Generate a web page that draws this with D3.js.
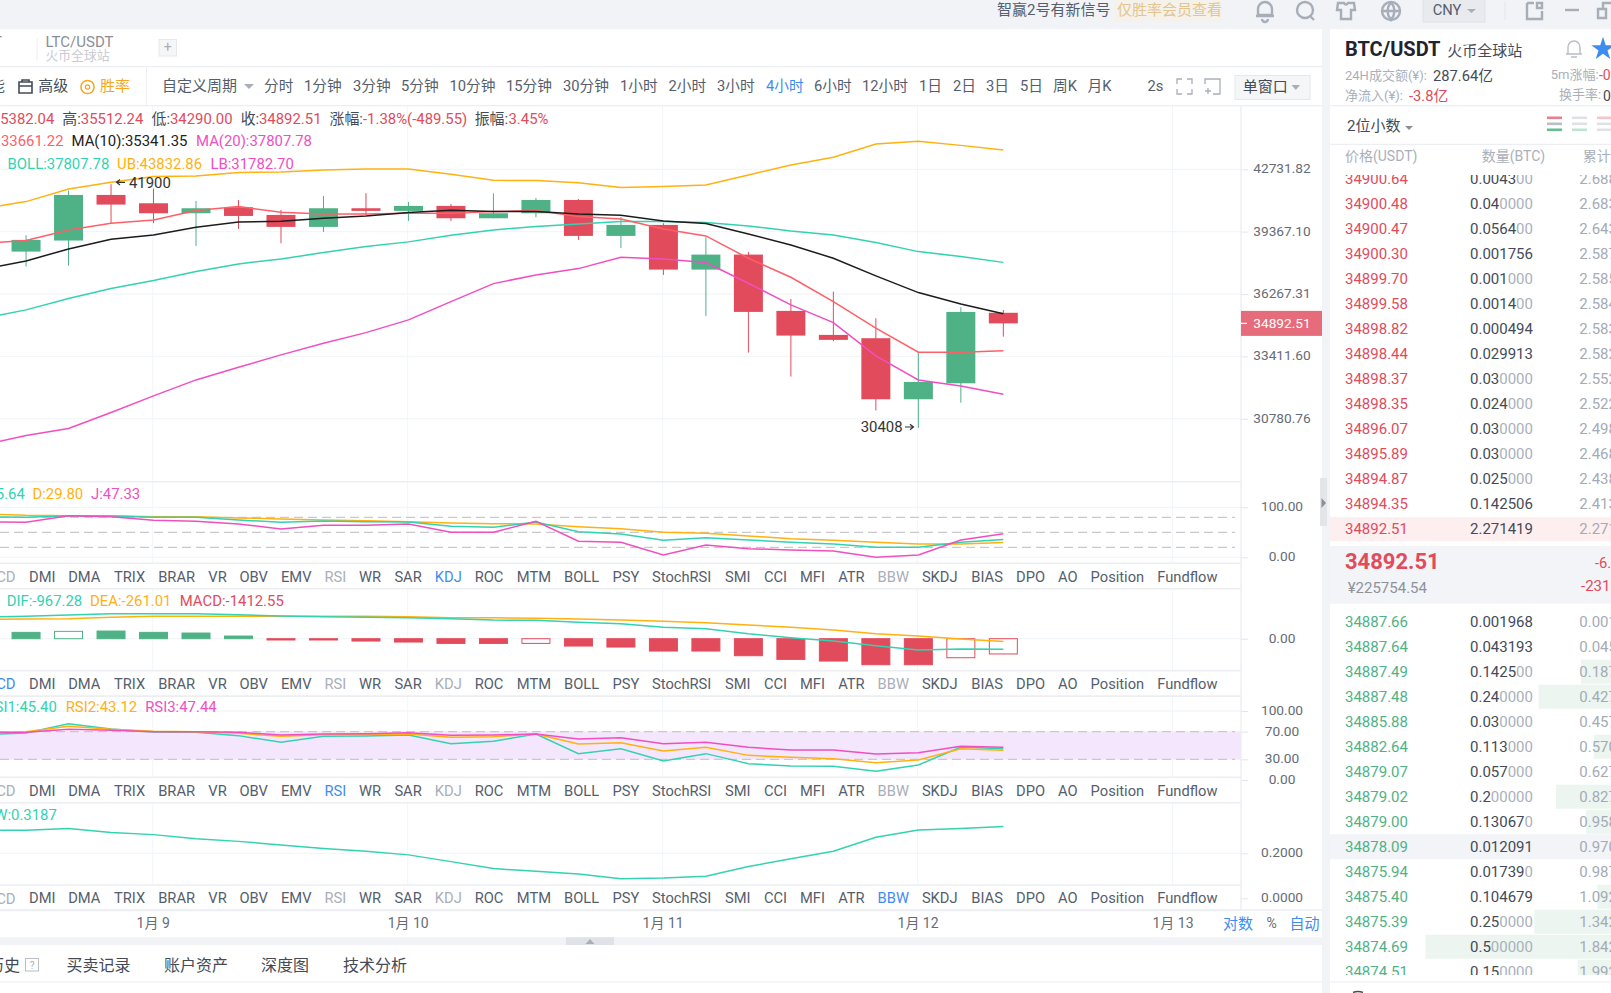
<!DOCTYPE html>
<html>
<head>
<meta charset="utf-8">
<script src="https://cdnjs.cloudflare.com/ajax/libs/d3/7.8.5/d3.min.js"></script>
<style>
    html, body { margin: 0; padding: 0; background: #fff; overflow: hidden; }
    svg { display: block; font-family: Roboto, 'Noto Sans CJK SC', sans-serif; }
</style>
</head>
<body>
<svg id="chart" width="1611" height="993"></svg>
<script>
'use strict'

// candles, 4h each, newest last
const opens = [38348, 38909, 41315, 40865, 40331, 40651, 40242, 39614, 40598, 40456, 40723, 40066, 40331, 41043, 39147, 39718, 37450, 38197, 35470, 34367, 34218, 31578, 32249, 35382.04]
const highs = [39181, 41552, 41900, 41661, 40990, 41043, 40509, 41260, 41406, 40936, 40830, 41406, 41150, 41096, 40136, 39805, 39079, 38331, 36033, 36383, 35128, 33578, 35642, 35512.24]
const lows = [37597, 37647, 39805, 39805, 38637, 39509, 38771, 39353, 40242, 39927, 39927, 40066, 40118, 38943, 38533, 37190, 35236, 33578, 32535, 34084, 31113, 30408, 31440, 34290]
const closes = [38943, 41315, 40794, 40331, 40598, 40189, 39614, 40598, 40456, 40723, 40066, 40331, 41043, 39147, 39718, 37450, 38197, 35423, 34337, 34143, 31578, 32306, 35423, 34892.51]

// indicator lines start one candle earlier, left of the visible area
const ma5 = [38771, 38909, 39457, 39805, 39979, 40473, 40687, 40379, 40295, 40295, 40331, 40331, 40420, 40473, 40153, 40031, 39509, 39147, 38014, 37076, 35907, 34671, 33593, 33593, 33661.22]
const ma10 = [37467, 37880, 38481, 38977, 39198, 39596, 39874, 39909, 40066, 40189, 40367, 40492, 40420, 40420, 40295, 40224, 39927, 39788, 39249, 38686, 38014, 37141, 36335, 35798, 35341.35]
const boll = [35128, 35517, 36049, 36527, 36913, 37352, 37731, 37980, 38297, 38601, 38841, 39181, 39457, 39631, 39770, 39892, 39892, 39840, 39666, 39405, 39198, 38805, 38347, 38097, 37807.78]
const bollUpper = [40598, 40954, 41643, 42008, 42324, 42361, 42547, 42584, 42696, 42752, 42752, 42454, 42119, 42101, 41989, 41715, 41770, 41861, 42417, 42977, 43414, 44183, 44338, 44098, 43832.86]
const bollLower = [29740, 30105, 30385, 31030, 31718, 32392, 32935, 33476, 33993, 34471, 35052, 35907, 36767, 37190, 37499, 38064, 37980, 37797, 36783, 35751, 34930, 33432, 32392, 32137, 31782.70]

const kdjK = [81, 80, 83.3, 82.7, 80, 80, 74.7, 70, 72.7, 71.3, 70.7, 62, 60, 70.7, 51.3, 46.7, 34, 39.3, 34.7, 30, 26.7, 20, 20, 30, 35.64]
const kdjD = [86.7, 84, 83.3, 83.3, 81.3, 81.3, 78.7, 76.7, 74.7, 73.3, 71.3, 68.7, 67.3, 66.7, 61.3, 57.3, 50, 48, 42.7, 37.3, 34, 30, 26.7, 26.7, 29.8]
const kdjJ = [70.7, 70, 83.3, 81.3, 74, 72, 66.7, 56.7, 64, 64, 66.7, 50, 50, 72, 32, 30, 4.7, 24.7, 17.3, 14.7, 12.7, 0, 4.7, 34.7, 47.33]

const macdDif = [2010, 2070, 2194, 2318, 2318, 2318, 2225, 2101, 2039, 1978, 1947, 1854, 1730, 1700, 1514, 1391, 1051, 927, 464, 93, -216, -649, -1051, -958, -967.28]
const macdDea = [1792, 1823, 1854, 1978, 2070, 2070, 2070, 2070, 2070, 2070, 2039, 1947, 1947, 1885, 1823, 1730, 1607, 1483, 1267, 1051, 803, 464, 247, -31, -261.01]
const macdHist = [587, 680, 710, 587, 525, 247, -120, -120, -216, -309, -433, -433, -433, -680, -773, -1143, -1143, -1576, -1916, -2070, -2410, -2410, -1761, -1412.55]
const macdHollow = [1, 12, 22, 23]

const rsi1 = [65.7, 68.1, 81.6, 73.9, 69.6, 69.1, 64.3, 54.6, 63.3, 63.8, 65.2, 52.7, 56, 66.7, 38.2, 45.4, 27.5, 38.2, 23.7, 20.3, 19.8, 12.6, 21.7, 47.8, 45.4]
const rsi2 = [68.6, 70, 77.8, 73.4, 70.5, 70, 67.6, 63.3, 65.7, 66.2, 66.7, 61.8, 62.8, 66.7, 52.2, 54.1, 42, 47.3, 35.7, 32.9, 30.9, 25.1, 29, 45.4, 43.12]
const rsi3 = [68.6, 69.1, 73.4, 72, 70, 70, 69.1, 65.2, 66.7, 67.1, 68.6, 64.7, 65.2, 66.7, 59.4, 61.4, 52.7, 54.6, 47.3, 43.5, 43.5, 37.7, 39.6, 48.8, 47.44]

const bbw = [0.302, 0.302, 0.31, 0.292, 0.283, 0.265, 0.253, 0.237, 0.221, 0.209, 0.193, 0.163, 0.132, 0.12, 0.108, 0.087, 0.09, 0.098, 0.141, 0.176, 0.209, 0.271, 0.304, 0.31, 0.3187]

// axis ticks
const priceTicks = [42731.82, 39367.10, 36267.31, 33411.60, 30780.76]
const kdjTicks = [100, 0]
const kdjGuides = [80, 50, 20]
const macdTicks = [0]
const rsiTicks = [100, 70, 30, 0]
const rsiBand = [70, 30]
const bbwTicks = [0.2, 0]
const dateTicks = ['2021-01-09', '2021-01-10', '2021-01-11', '2021-01-12', '2021-01-13']

// order book, top to bottom
const askPrices = ['34900.64', '34900.48', '34900.47', '34900.30', '34899.70', '34899.58', '34898.82', '34898.44', '34898.37', '34898.35', '34896.07', '34895.89', '34894.87', '34894.35', '34892.51']
const askQtys = [0.0043, 0.04, 0.0564, 0.001756, 0.001, 0.0014, 0.000494, 0.029913, 0.03, 0.024, 0.03, 0.03, 0.025, 0.142506, 2.271419]
const bidPrices = ['34887.66', '34887.64', '34887.49', '34887.48', '34885.88', '34882.64', '34879.07', '34879.02', '34879.00', '34878.09', '34875.94', '34875.40', '34875.39', '34874.69', '34874.51']
const bidQtys = [0.001968, 0.043193, 0.1425, 0.24, 0.03, 0.113, 0.057, 0.2, 0.13067, 0.012091, 0.01739, 0.104679, 0.25, 0.5, 0.15]

// labels
const periods = [['分时', 264], ['1分钟', 304], ['3分钟', 353], ['5分钟', 401], ['10分钟', 449.5], ['15分钟', 506], ['30分钟', 563], ['1小时', 620], ['2小时', 668.6], ['3小时', 717], ['4小时', 766], ['6小时', 814], ['12小时', 862], ['1日', 919], ['2日', 953], ['3日', 986], ['5日', 1020], ['周K', 1053], ['月K', 1087.5], ['2s', 1147.5]]
const indicators = [['DMI', 29], ['DMA', 68.2], ['TRIX', 114], ['BRAR', 158.2], ['VR', 208.3], ['OBV', 239.5], ['EMV', 281], ['RSI', 324.5], ['WR', 359], ['SAR', 394.4], ['KDJ', 434.8], ['ROC', 474.7], ['MTM', 516.8], ['BOLL', 564], ['PSY', 612.4], ['StochRSI', 652], ['SMI', 725], ['CCI', 764], ['MFI', 800], ['ATR', 838.2], ['BBW', 877.6], ['SKDJ', 921.9], ['BIAS', 971.3], ['DPO', 1016], ['AO', 1058], ['Position', 1090.6], ['Fundflow', 1157.3]]

const RED = '#e24b5b'
const GREEN = '#4fb286'
const TEAL = '#33d2b0'
const ORANGE = '#ffb10f'
const PINK = '#f04fc0'
const CORAL = '#ff5f68'
const BLUE = '#3f8cf0'
const GRID = '#f3f6f9'
const RULE = '#eceef2'
const PAGE_BG = '#f1f3f7'
const AXIS_X = 1241
const CANDLE_W = 29
// candles sit a little right of the date grid lines
const CANDLE_SHIFT = 0.8

const svg = d3.select('#chart')

const text = (parent, x, y, str, opts = {}) => {
    return parent
        .append('text')
        .attr('x', x)
        .attr('y', y)
        .attr('dy', '.35em')
        .attr('font-size', opts.size || 14.9)
        .attr('font-weight', opts.weight || null)
        .attr('fill', opts.color || '#555e6c')
        .attr('text-anchor', opts.anchor || 'start')
        .text(str)
}

const rect = (parent, x, y, w, h, fill, stroke) => {
    return parent
        .append('rect')
        .attr('x', x)
        .attr('y', y)
        .attr('width', w)
        .attr('height', h)
        .attr('fill', fill)
        .attr('stroke', stroke || 'none')
}

const hline = (parent, x1, x2, y, color, width = 1) => {
    parent.append('line').attr('x1', x1).attr('x2', x2).attr('y1', y).attr('y2', y).attr('stroke', color).attr('stroke-width', width)
}

// shared time axis
const startTime = new Date('2021-01-08T12:00:00Z')
const candleTimes = opens.map((d, i) => d3.utcHour.offset(startTime, 4 * i))
const lineTimes = [d3.utcHour.offset(startTime, -4), ...candleTimes]
const x = d3
    .scaleUtc()
    .domain([startTime, new Date('2021-01-13T00:00:00Z')])
    .range([25.25, 1172.5])
const cx = (t) => x(t) + CANDLE_SHIFT

// y scales per pane
const yPrice = d3.scaleLog().domain([30780.76, 42731.82]).range([418.7, 169.3])
const yKdj = d3.scaleLinear().domain([0, 100]).range([557.3, 507.3])
const yMacd = d3.scaleLinear().domain([-1000, 1000]).range([649.5, 627.9])
const yRsi = d3.scaleLinear().domain([0, 100]).range([780, 711])
const yBbw = d3.scaleLinear().domain([0, 0.2]).range([898.3, 853.3])

// page frame
rect(svg, 0, 0, 1611, 993, '#fff')
rect(svg, 0, 0, 1611, 29, PAGE_BG)
rect(svg, 1322, 29, 8, 964, PAGE_BG)
rect(svg, 0, 937.3, 1322, 7.7, PAGE_BG)
rect(svg, 566, 937.3, 48, 7.7, '#dfe2e6')
svg.append('path').attr('d', 'M585.5 944 L590 939 L594.5 944 Z').attr('fill', '#a9afb8')

// grid
const grid = svg.append('g')
dateTicks.forEach((d) => {
    const gx = x(new Date(d))
    grid.append('line').attr('x1', gx).attr('x2', gx).attr('y1', 106).attr('y2', 910).attr('stroke', GRID)
})
priceTicks.forEach((d) => hline(grid, 0, AXIS_X, yPrice(d), GRID, 1.3))
kdjTicks.forEach((d) => hline(grid, 0, AXIS_X, yKdj(d), GRID, 1.3))
macdTicks.forEach((d) => hline(grid, 0, AXIS_X, yMacd(d), GRID, 1.3))
rsiTicks.forEach((d) => hline(grid, 0, AXIS_X, yRsi(d), GRID, 1.3))
bbwTicks.forEach((d) => hline(grid, 0, AXIS_X, yBbw(d), GRID, 1.3))

// rsi band and guide lines
rect(svg, 0, yRsi(rsiBand[0]), AXIS_X, yRsi(rsiBand[1]) - yRsi(rsiBand[0]), '#f4e6fc')
const dashed = (v, y) => {
    svg.append('line')
        .attr('x1', 0)
        .attr('x2', AXIS_X - 6)
        .attr('y1', y(v))
        .attr('y2', y(v))
        .attr('stroke', '#c9c9cd')
        .attr('stroke-width', 1.2)
        .attr('stroke-dasharray', '9 5')
}
kdjGuides.forEach((d) => dashed(d, yKdj))
rsiBand.forEach((d) => dashed(d, yRsi))

// candles
const candles = svg
    .append('g')
    .selectAll('g')
    .data(candleTimes)
    .join('g')
    .attr('fill', (d, i) => (closes[i] >= opens[i] ? GREEN : RED))
    .attr('stroke', (d, i) => (closes[i] >= opens[i] ? GREEN : RED))
candles
    .append('line')
    .attr('x1', (d) => cx(d))
    .attr('x2', (d) => cx(d))
    .attr('y1', (d, i) => yPrice(highs[i]))
    .attr('y2', (d, i) => yPrice(lows[i]))
candles
    .append('rect')
    .attr('x', (d) => cx(d) - CANDLE_W / 2)
    .attr('width', CANDLE_W)
    .attr('y', (d, i) => yPrice(Math.max(opens[i], closes[i])))
    .attr('height', (d, i) => Math.abs(yPrice(opens[i]) - yPrice(closes[i])))
    .attr('stroke', 'none')

const drawLine = (values, y, color, width = 1.5) => {
    const line = d3
        .line()
        .x((d, i) => cx(lineTimes[i]))
        .y((d) => y(d))
    svg.append('path').datum(values).attr('d', line).attr('fill', 'none').attr('stroke', color).attr('stroke-width', width)
}

drawLine(bollUpper, yPrice, ORANGE)
drawLine(boll, yPrice, TEAL)
drawLine(bollLower, yPrice, PINK)
drawLine(ma5, yPrice, CORAL)
drawLine(ma10, yPrice, '#1c1c1c')

// high and low markers
text(svg, 129, 182.3, '41900', { color: '#333' })
svg.append('path').attr('d', 'M125 182.3 H117 M120 179.5 L116.5 182.3 L120 185').attr('fill', 'none').attr('stroke', '#333').attr('stroke-width', 1.2)
text(svg, 860.7, 426.7, '30408', { color: '#333' })
svg.append('path').attr('d', 'M905 427 H913 M910 424.2 L913.5 427 L910 429.8').attr('fill', 'none').attr('stroke', '#333').attr('stroke-width', 1.2)

// kdj
drawLine(kdjD, yKdj, ORANGE)
drawLine(kdjK, yKdj, TEAL)
drawLine(kdjJ, yKdj, PINK)

// macd histogram
svg.append('g')
    .selectAll('rect')
    .data(macdHist)
    .join('rect')
    .attr('x', (d, i) => cx(candleTimes[i]) - CANDLE_W / 2 + 0.5)
    .attr('width', CANDLE_W - 1)
    .attr('y', (d) => Math.min(yMacd(d), yMacd(0)))
    .attr('height', (d) => Math.abs(yMacd(d) - yMacd(0)))
    .attr('fill', (d, i) => (macdHollow.includes(i) ? '#fff' : d >= 0 ? GREEN : RED))
    .attr('stroke', (d) => (d >= 0 ? GREEN : RED))
    .attr('stroke-width', 1)
drawLine(macdDea, yMacd, ORANGE)
drawLine(macdDif, yMacd, TEAL)

// rsi, bbw
drawLine(rsi1, yRsi, TEAL)
drawLine(rsi2, yRsi, ORANGE)
drawLine(rsi3, yRsi, PINK)
drawLine(bbw, yBbw, TEAL)

// indicator tab rows
const tabRows = [
    { y: 563.3, active: 'KDJ', muted: ['MACD', 'RSI', 'BBW'] },
    { y: 670.7, active: 'MACD', muted: ['KDJ', 'RSI', 'BBW'] },
    { y: 777.3, active: 'RSI', muted: ['MACD', 'KDJ', 'BBW'] },
    { y: 885, active: 'BBW', muted: ['MACD', 'KDJ', 'RSI'] },
]
tabRows.forEach((row) => {
    const g = svg.append('g')
    rect(g, 0, row.y, AXIS_X, 25.4, '#fff')
    hline(g, 0, AXIS_X, row.y, RULE, 1.6)
    hline(g, 0, AXIS_X, row.y + 25.4, RULE, 1.6)
    const colorOf = (name) => (name === row.active ? BLUE : row.muted.includes(name) ? '#a9aeb8' : '#555e6c')
    text(g, 15.6, row.y + 13.3, 'MACD', { anchor: 'end', color: colorOf('MACD') })
    indicators.forEach(([name, tx]) => text(g, tx, row.y + 13.3, name, { color: colorOf(name), size: 14.7 }))
})
hline(svg, 0, AXIS_X, 481.7, RULE, 1.6)

// right axes
const drawAxis = (y, values, format) => {
    const g = svg
        .append('g')
        .attr('transform', `translate(${AXIS_X},0)`)
        .call(d3.axisRight(y).tickValues(values).tickFormat(format).tickSize(7))
    g.select('.domain').remove()
    g.selectAll('.tick line').attr('stroke', '#e3e6ea')
    g.selectAll('.tick text')
        .attr('x', 41)
        .attr('dy', '.25em')
        .attr('text-anchor', 'middle')
        .attr('font-size', 13.7)
        .attr('font-family', 'Roboto')
        .attr('fill', '#666c76')
}
drawAxis(yPrice, priceTicks, d3.format('.2f'))
drawAxis(yKdj, kdjTicks, d3.format('.2f'))
drawAxis(yMacd, macdTicks, d3.format('.2f'))
drawAxis(yRsi, rsiTicks, d3.format('.2f'))
drawAxis(yBbw, bbwTicks, d3.format('.4f'))
svg.append('line').attr('x1', AXIS_X).attr('x2', AXIS_X).attr('y1', 106).attr('y2', 910).attr('stroke', RULE).attr('stroke-width', 1.4)

// last price tag
const lastClose = closes[closes.length - 1]
rect(svg, AXIS_X, yPrice(lastClose) - 12.5, 81, 25, '#e66b7b')
hline(svg, AXIS_X, AXIS_X + 6, yPrice(lastClose), '#fff', 1.2)
text(svg, AXIS_X + 41, yPrice(lastClose), d3.format('.2f')(lastClose), { color: '#fff', anchor: 'middle', size: 13.7 })

// bottom time axis
const timeAxis = svg
    .append('g')
    .attr('transform', 'translate(0,923.3)')
    .call(
        d3
            .axisBottom(x)
            .tickValues(dateTicks.map((d) => new Date(d)))
            .tickFormat((d) => `1月 ${d.getUTCDate()}`)
            .tickSize(0)
    )
timeAxis.select('.domain').remove()
timeAxis
    .selectAll('.tick text')
    .attr('y', 0)
    .attr('dy', '.35em')
    .attr('font-size', 14)
    .attr('font-family', "Roboto, 'Noto Sans CJK SC'")
    .attr('fill', '#666c76')
hline(svg, 0, 1322, 910, RULE, 1.6)
text(svg, 1223, 923.3, '对数', { color: BLUE, size: 15 })
text(svg, 1266.6, 923.3, '%', { color: '#666c76', size: 14 })
text(svg, 1289.6, 923.3, '自动', { color: BLUE, size: 15 })

// legends
const legend = (y, items) => {
    items.forEach(([lx, str, color, anchor]) => text(svg, lx, y, str, { color, anchor }))
}
const DARK = '#444b57'
legend(118.7, [
    [54.3, '开:35382.04', RED, 'end'],
    [62.3, '高:', DARK],
    [80.8, '35512.24', RED],
    [151.5, '低:', DARK],
    [170, '34290.00', RED],
    [240.7, '收:', DARK],
    [259, '34892.51', RED],
    [329.5, '涨幅:', DARK],
    [363, '-1.38%(-489.55)', RED],
    [474.7, '振幅:', DARK],
    [508.5, '3.45%', RED],
])
legend(141, [
    [63.5, 'MA(5):33661.22', CORAL, 'end'],
    [71.5, 'MA(10):35341.35', '#222'],
    [196, 'MA(20):37807.78', PINK],
])
legend(163.3, [
    [7.6, 'BOLL:37807.78', TEAL],
    [117, 'UB:43832.86', ORANGE],
    [210.4, 'LB:31782.70', PINK],
])
legend(493.3, [
    [24.8, 'K:35.64', TEAL, 'end'],
    [32.4, 'D:29.80', ORANGE],
    [91, 'J:47.33', PINK],
])
legend(600.7, [
    [6.7, 'DIF:-967.28', TEAL],
    [90, 'DEA:-261.01', ORANGE],
    [179.7, 'MACD:-1412.55', RED],
])
legend(706.7, [
    [56.8, 'RSI1:45.40', TEAL, 'end'],
    [65.7, 'RSI2:43.12', ORANGE],
    [145.2, 'RSI3:47.44', PINK],
])
legend(814.3, [[56.8, 'BBW:0.3187', TEAL, 'end']])

// symbol tabs
hline(svg, 0, 1322, 66.7, RULE, 1.2)
text(svg, 2, 41.7, 'BTC/USDT', { anchor: 'end', color: '#888' })
svg.append('line').attr('x1', 37).attr('x2', 37).attr('y1', 38).attr('y2', 60).attr('stroke', RULE)
text(svg, 45.5, 41.7, 'LTC/USDT', { color: '#8a8f98', size: 15 })
text(svg, 45.5, 55.7, '火币全球站', { color: '#c9ccd2', size: 12.8 })
rect(svg, 159, 39.5, 17.5, 16.5, '#f5f6f8', '#e6e8ec')
text(svg, 167.8, 47.5, '+', { color: '#a9aeb8', anchor: 'middle', size: 14 })

// toolbar
hline(svg, 0, 1322, 105.7, RULE, 1.2)
text(svg, 5, 86, '性能', { anchor: 'end' })
svg.append('path').attr('d', 'M19 82 H32 V93 H19 Z M19 86 H32 M22 82 V80 H29 V82').attr('fill', 'none').attr('stroke', '#444b57').attr('stroke-width', 1.6)
text(svg, 38.3, 86, '高级', { color: '#444b57' })
svg.append('circle').attr('cx', 87.5).attr('cy', 87).attr('r', 6.6).attr('fill', 'none').attr('stroke', '#f5a623').attr('stroke-width', 1.5)
svg.append('circle').attr('cx', 87.5).attr('cy', 87).attr('r', 2.2).attr('fill', 'none').attr('stroke', '#f5a623').attr('stroke-width', 1.2)
text(svg, 100, 86, '胜率', { color: '#f5a623', size: 15 })
svg.append('line').attr('x1', 146.5).attr('x2', 146.5).attr('y1', 67).attr('y2', 105).attr('stroke', RULE)
text(svg, 162, 86, '自定义周期', { size: 15 })
svg.append('path').attr('d', 'M244 84 H254 L249 89 Z').attr('fill', '#a9aeb8')
periods.forEach(([name, tx]) => text(svg, tx, 86, name, { color: name === '4小时' ? BLUE : '#555e6c', size: 14.7 }))
svg.append('path')
    .attr('d', 'M1177 84 V79 H1182 M1187 79 H1192 V84 M1192 89 V94 H1187 M1182 94 H1177 V89')
    .attr('fill', 'none')
    .attr('stroke', '#a9aeb8')
    .attr('stroke-width', 1.3)
svg.append('path')
    .attr('d', 'M1205 84 V79 H1220 V94 H1213 M1205 91 H1211 M1208 88 V94')
    .attr('fill', 'none')
    .attr('stroke', '#a9aeb8')
    .attr('stroke-width', 1.3)
rect(svg, 1235, 75.5, 75, 24, '#f5f6f8', '#e6e8ec')
text(svg, 1242.8, 87, '单窗口', { color: '#444b57', size: 15 })
svg.append('path').attr('d', 'M1291.5 85 H1300 L1295.8 90 Z').attr('fill', '#a9aeb8')

// collapse handle
rect(svg, 1320, 478, 7, 48, '#e3e5e8')
svg.append('path').attr('d', 'M1321.5 498 L1326 503 L1321.5 508 Z').attr('fill', '#8a8f98')

// bottom tabs
text(svg, 20, 965, '历史', { anchor: 'end', size: 16, color: '#444b57' })
rect(svg, 25.5, 958.5, 13, 12.5, '#fff', '#b9bdc5')
text(svg, 32, 965, '?', { anchor: 'middle', size: 10, color: '#a9aeb8' })
text(svg, 66.5, 965, '买卖记录', { size: 16, color: '#444b57' })
text(svg, 164, 965, '账户资产', { size: 16, color: '#444b57' })
text(svg, 261, 965, '深度图', { size: 16, color: '#444b57' })
text(svg, 343, 965, '技术分析', { size: 16, color: '#444b57' })
hline(svg, 0, 1322, 982, RULE, 1.2)

// top bar
text(svg, 997, 10, '智赢2号有新信号', { size: 15, color: '#555e6c' })
rect(svg, 1114, 0, 108, 22, '#f5f2ec')
text(svg, 1117, 10, '仅胜率会员查看', { size: 15, color: '#e3c58f' })
const iconStroke = (d, color = '#a7aeb8', width = 2.4) => {
    svg.append('path').attr('d', d).attr('fill', 'none').attr('stroke', color).attr('stroke-width', width)
}
iconStroke('M1258 15 V9 A7 7 0 0 1 1272 9 V15 Z M1256 16 H1274 M1262 19 A3 3 0 0 0 1268 19')
svg.append('circle').attr('cx', 1305).attr('cy', 10).attr('r', 8).attr('fill', 'none').attr('stroke', '#a7aeb8').attr('stroke-width', 2.4)
iconStroke('M1310 16 L1314 20')
iconStroke('M1338 3 H1344 Q1346 6 1348 3 H1354 L1355 10 H1351 V19 H1341 V10 H1337 Z')
svg.append('circle').attr('cx', 1391).attr('cy', 11).attr('r', 9).attr('fill', 'none').attr('stroke', '#a7aeb8').attr('stroke-width', 2.4)
iconStroke('M1382 11 H1400 M1391 2 Q1384 11 1391 20 Q1398 11 1391 2')
rect(svg, 1423, -2, 62, 24, '#e8eaee', '#dfe2e6')
text(svg, 1432.7, 10, 'CNY', { size: 14.7, color: '#555e6c' })
svg.append('path').attr('d', 'M1467 9 H1476 L1471.5 13 Z').attr('fill', '#a9aeb8')
svg.append('line').attr('x1', 1505).attr('x2', 1505).attr('y1', 2).attr('y2', 20).attr('stroke', '#e3e5e8')
iconStroke('M1527 3 H1534 M1542 11 V19 H1527 V3 M1537 3 H1542 V8 H1537 Z')
iconStroke('M1565 10 H1579')
iconStroke('M1598 9 H1606 V18 H1598 Z M1603 9 V3 H1613')

// right panel header
text(svg, 1345, 49, 'BTC/USDT', { size: 20, weight: 700, color: '#1f2430' })
text(svg, 1447.3, 51, '火币全球站', { size: 15, color: '#444b57' })
iconStroke('M1568 54 V47 A6 6 0 0 1 1580 47 V54 Z M1566 54 H1582 M1571 57 H1577', '#b9bdc5', 1.4)
svg.append('path')
    .attr('d', d3.symbol().type(d3.symbolStar).size(170)())
    .attr('transform', 'translate(1603,49)')
    .attr('fill', BLUE)
const GREY_LABEL = '#aab0ba'
text(svg, 1345, 75, '24H成交额(¥):', { size: 13, color: GREY_LABEL })
text(svg, 1433, 75.5, '287.64亿', { size: 14.7, color: '#444b57' })
text(svg, 1550.7, 74, '5m涨幅:', { size: 13, color: GREY_LABEL })
text(svg, 1599, 75.5, '-0.02%', { size: 14, color: RED })
text(svg, 1345, 95, '净流入(¥):', { size: 13, color: GREY_LABEL })
text(svg, 1409, 96, '-3.8亿', { size: 14.7, color: RED })
text(svg, 1559, 94, '换手率:', { size: 13, color: GREY_LABEL })
text(svg, 1603, 96, '0.3%', { size: 14, color: '#444b57' })
hline(svg, 1330, 1611, 105.7, RULE, 1.2)
text(svg, 1347, 126, '2位小数', { size: 15, color: '#444b57' })
svg.append('path').attr('d', 'M1405 126 H1413 L1409 130 Z').attr('fill', '#8a8f98')
const depthIcon = (ix, colors) => {
    colors.forEach((c, i) => rect(svg, ix, 116.5 + i * 6, 15, 2.6, c))
}
depthIcon(1547, ['#e8808c', '#b9bdc5', '#62bd94'])
depthIcon(1572, ['#dfe1e5', '#dfe1e5', '#bfe3d2'])
depthIcon(1597, ['#f6c4ca', '#dfe1e5', '#dfe1e5'])
hline(svg, 1330, 1611, 144.3, RULE, 1.2)
text(svg, 1345, 156, '价格(USDT)', { size: 14, color: GREY_LABEL })
text(svg, 1481.7, 156, '数量(BTC)', { size: 14, color: GREY_LABEL })
text(svg, 1582.7, 156, '累计(BTC)', { size: 14, color: GREY_LABEL })

// order book
const defs = svg.append('defs')
defs.append('clipPath').attr('id', 'book-clip').append('rect').attr('x', 1330).attr('y', 175).attr('width', 281).attr('height', 800)
const book = svg.append('g').attr('clip-path', 'url(#book-clip)')
const askY = d3.scaleLinear().domain([0, askPrices.length - 1]).range([179, 529])
const bidY = d3.scaleLinear().domain([0, bidPrices.length - 1]).range([621.7, 971.7])
const depthW = d3.scaleLinear().domain([0.0736, 0.5]).range([0, 185.5]).clamp(true)
const askTotals = Array.from(d3.cumsum(askQtys.slice().reverse())).reverse()
const bidTotals = Array.from(d3.cumsum(bidQtys))
const HOVER_BID = 9

const bookRow = (y, price, qty, total, color) => {
    const qtyStr = d3.format('.6f')(qty)
    const tail = qtyStr.match(/0*$/)[0]
    text(book, 1345, y, price, { size: 15, color })
    const q = text(book, 1470, y, '', { size: 15 })
    q.append('tspan').attr('fill', '#444b57').text(qtyStr.slice(0, qtyStr.length - tail.length))
    q.append('tspan').attr('fill', '#aab0ba').text(tail)
    text(book, 1579.3, y, d3.format('.6f')(total), { size: 15, color: '#a5abb5' })
}

rect(book, 1330, askY(askPrices.length - 1) - 12, 281, 24, '#fdeeef')
askPrices.forEach((p, i) => bookRow(askY(i), p, askQtys[i], askTotals[i], RED))

rect(book, 1330, bidY(HOVER_BID) - 12.5, 281, 25, '#f3f4f7')
bidQtys.forEach((q, i) => {
    const w = depthW(q)
    rect(book, 1611 - w, bidY(i) - 12, w, 24, '#ecf5f0')
})
bidPrices.forEach((p, i) => bookRow(bidY(i), p, bidQtys[i], bidTotals[i], GREEN))

// mid price block
rect(svg, 1330, 546, 281, 57.7, '#f3f4f7')
text(svg, 1345, 561, '34892.51', { size: 22, weight: 700, color: RED })
text(svg, 1347.7, 587.7, '¥225754.54', { size: 15, color: '#8d929b' })
text(svg, 1595, 562.7, '-6.00%', { size: 14.7, color: RED })
text(svg, 1581, 585.7, '-231.00', { size: 15, color: RED })
hline(svg, 1330, 1611, 982, RULE, 1.2)
iconStroke('M1353 992.5 Q1358 990.5 1363 992.5', '#444b57', 1.4)
</script>
</body>
</html>
